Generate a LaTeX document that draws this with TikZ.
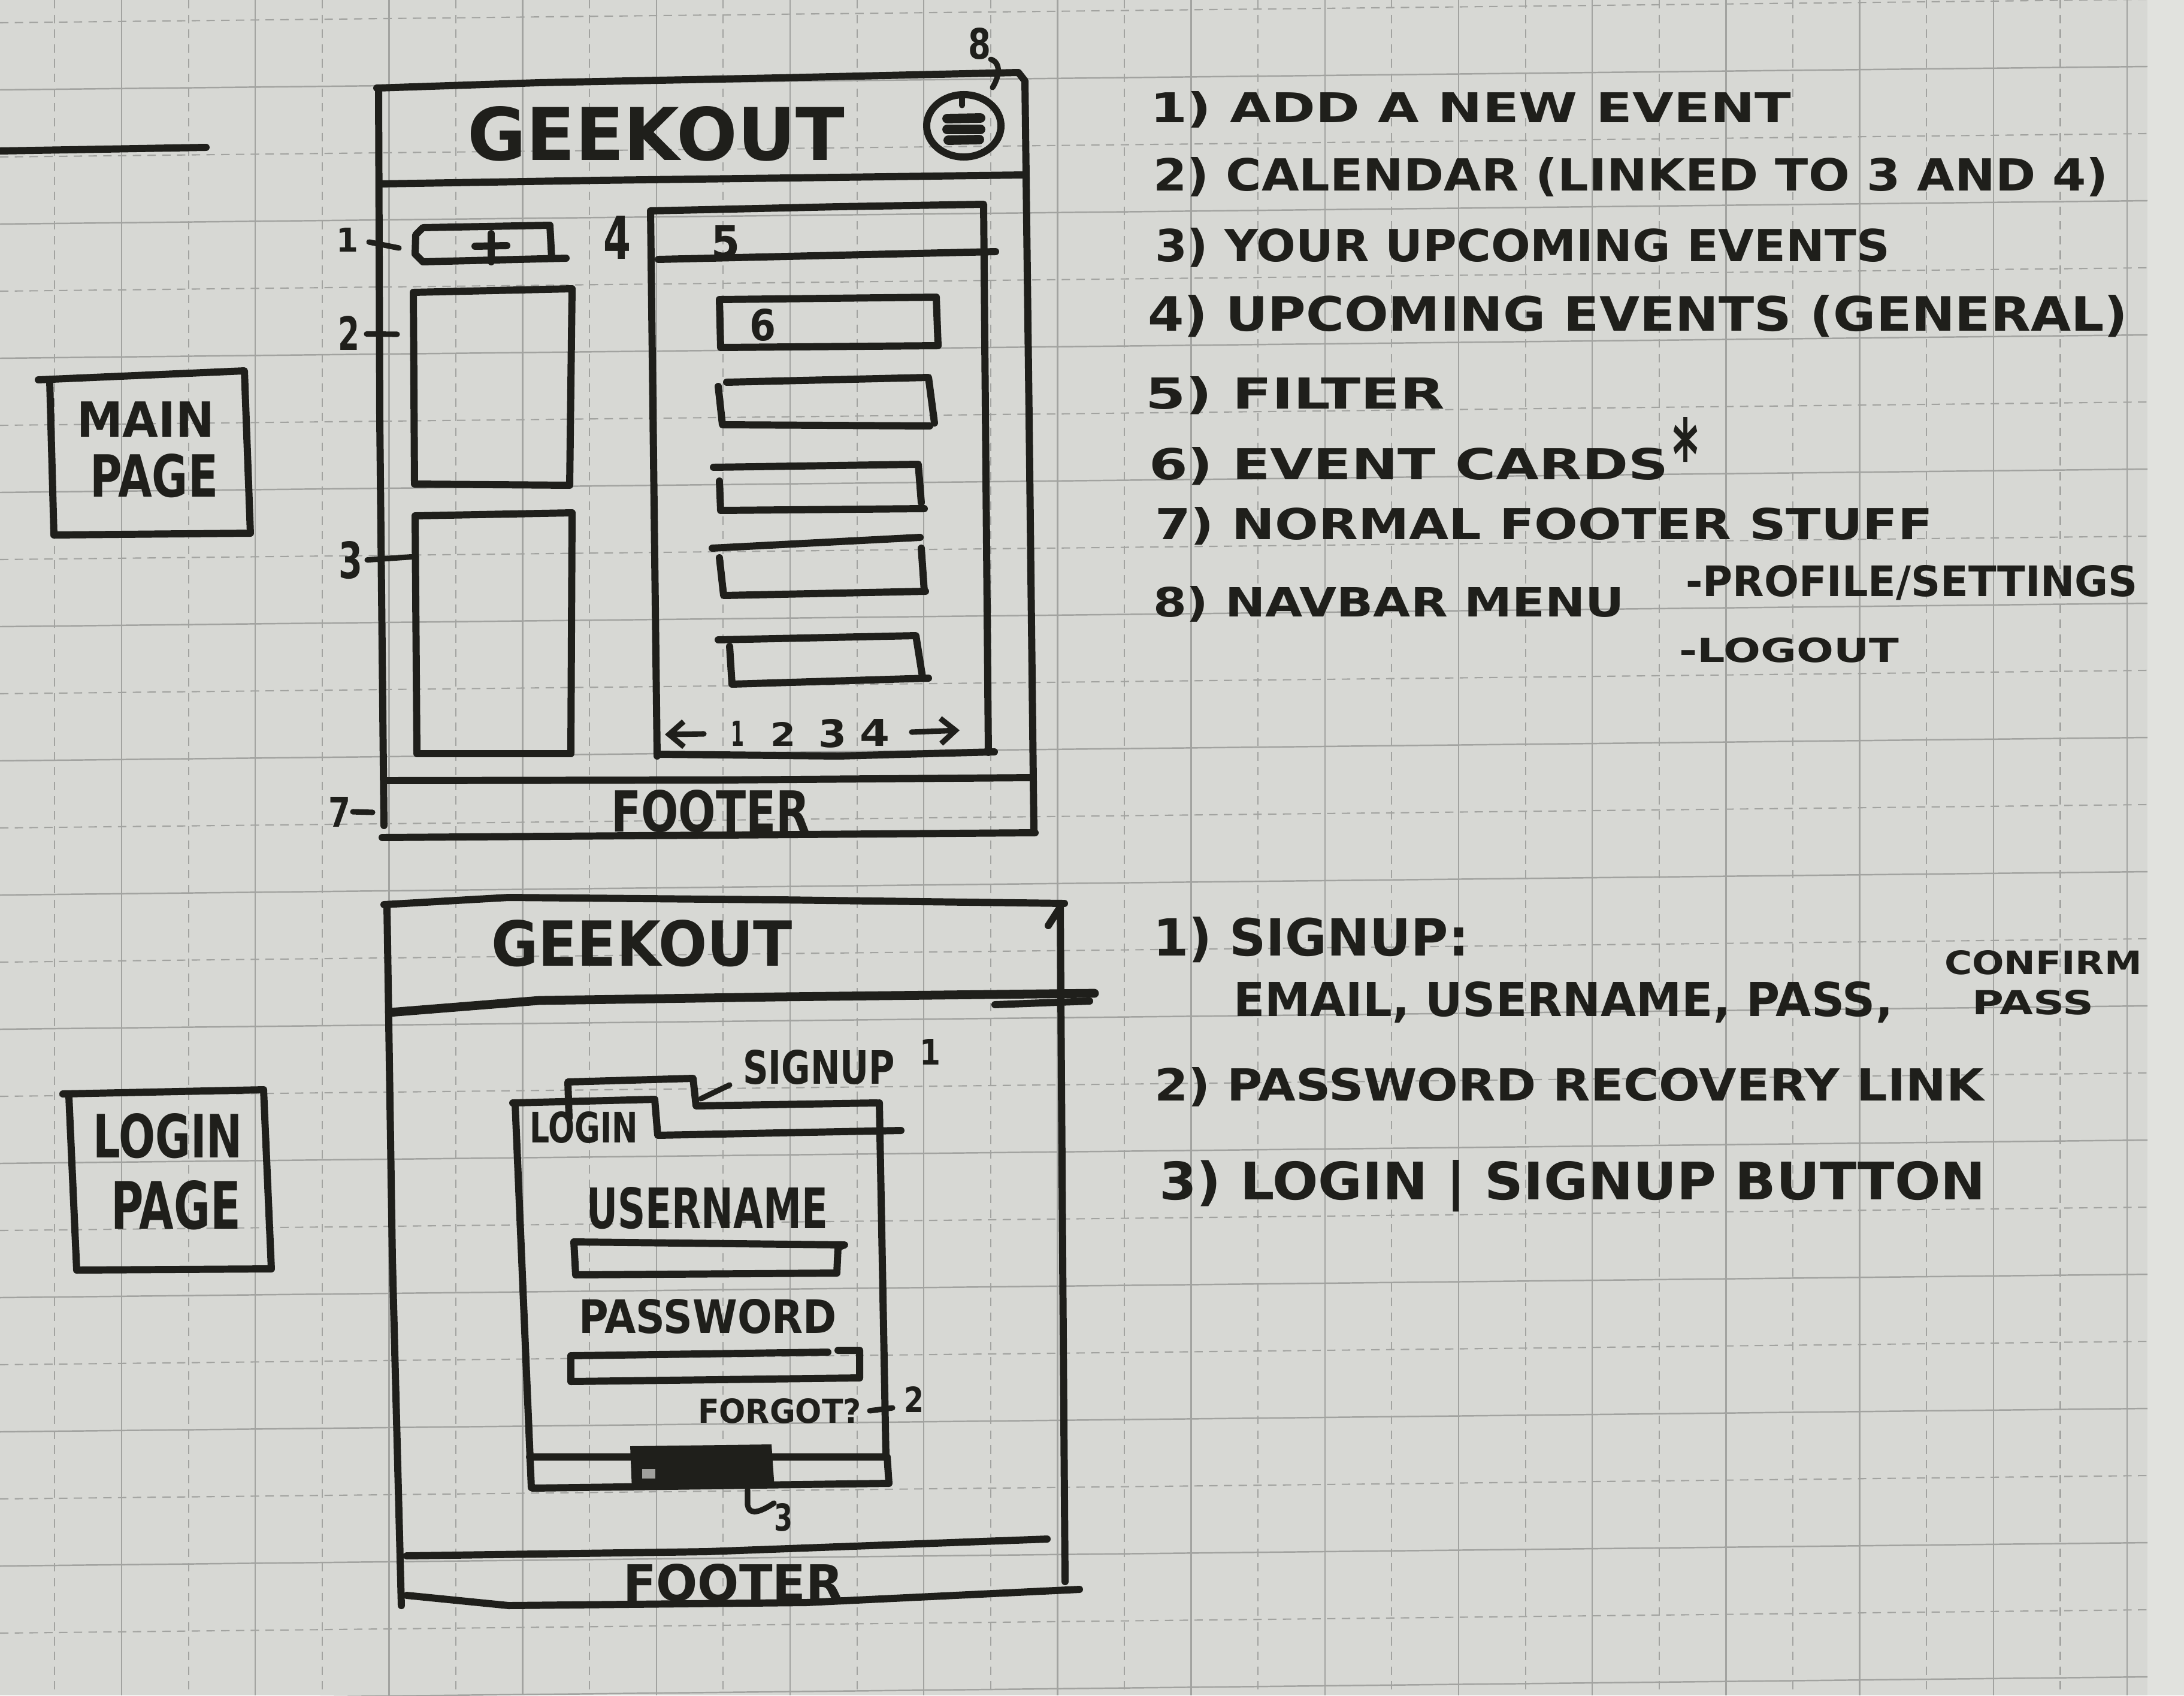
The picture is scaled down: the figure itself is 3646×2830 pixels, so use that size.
\documentclass[tikz,border=0pt]{standalone}
\usepackage{fontspec}
\usepackage{graphicx}
\usetikzlibrary{arrows.meta}
\newfontfamily\inkfont{DejaVu Sans}
\definecolor{paper}{HTML}{D7D8D4}
\definecolor{paperedge}{HTML}{E1E2DE}
\definecolor{gridline}{HTML}{A2A3A0}
\definecolor{ink}{HTML}{1F1F1B}

% hand lettering: width x1..x2, letter top y1, baseline y2
\newcommand{\hwat}[6]{%
  \pgfmathsetmacro\hwW{(#4-#2)*0.01}%
  \pgfmathsetmacro\hwH{(#5-#3)*0.01}%
  \node[inktext] (#1) at (#2,#5) {\resizebox{\hwW cm}{\hwH cm}{\inkfont\bfseries #6}};%
}

\begin{document}
\begin{tikzpicture}[x=0.01cm, y=-0.01cm,
  inktext/.style={inner sep=0pt, outer sep=0pt, anchor=base west, text=ink},
  pen/.style={draw=ink, line width=3.4pt, line cap=round, line join=round},
  finepen/.style={draw=ink, line width=2.6pt, line cap=round, line join=round},
  solidgrid/.style={draw=gridline, line width=0.7pt},
  dashgrid/.style={draw=gridline, line width=0.6pt, dash pattern=on 4pt off 3pt},
  barb/.style={-{Straight Barb[length=7pt,width=12pt]}}
]

% ---------- paper and grid ----------
\fill[paper] (0,0) rectangle (3646,2830);
\fill[paperedge] (3585,0) rectangle (3646,2830);
\useasboundingbox (0,0) rectangle (3646,2830);

\foreach \k in {0,2,...,30} \draw[solidgrid] ({203+111.6*\k},0) -- ++(0,2830);
\foreach \k in {-1,1,...,29} \draw[dashgrid] ({203+111.6*\k},0) -- ++(0,2830);
\foreach \k in {0,2,...,24} \draw[solidgrid] (0,{150+112*\k}) -- (3585,{150+112*\k-39});
\foreach \k in {-1,1,...,23} \draw[dashgrid] (0,{150+112*\k}) -- (3585,{150+112*\k-39});

% ---------- stray rule, top left ----------
\draw[pen] (0,252) -- (344,246);

% ---------- page name boxes ----------
\draw[pen] (64,634) -- (408,619) -- (418,890) -- (90,893) -- (83,636);
\hwat{mainw}{128}{670}{358}{729}{MAIN}
\hwat{pagew}{150}{757}{364}{829}{PAGE}

\draw[pen] (105,1826) -- (440,1819) -- (453,2118) -- (128,2120) -- (115,1830);
\hwat{loginw}{155}{1858}{405}{1932}{LOGIN}
\hwat{pagewb}{185}{1970}{402}{2051}{PAGE}

% ---------- main page wireframe ----------
\draw[pen] (632,148) -- (634,700) -- (641,1378);
\draw[pen] (629,147) -- (900,138) -- (1300,130) -- (1700,121) -- (1711,135) -- (1718,700) -- (1726,1390);
\draw[pen] (633,307) -- (1000,301) -- (1400,296) -- (1710,292);
\hwat{maintitle}{780}{177}{1410}{267}{GEEKOUT}

% navbar menu button
\draw[pen] (1609,210) ellipse [x radius=0.62cm, y radius=0.52cm];
\draw[pen, line width=4.5pt] (1581,198) -- (1637,197);
\draw[pen, line width=4.5pt] (1581,216) -- (1637,216);
\draw[pen, line width=4.5pt] (1583,234) -- (1635,233);
\draw[finepen] (1606,160) -- (1606,176);
\hwat{lbleight}{1616}{46}{1654}{98}{8}
\coordinate (eightend) at (1657,146);
\draw[finepen] (lbleight.south east) .. controls (1672,105) and (1668,128) .. (eightend);

% add-event button
\draw[pen] (945,431) -- (706,437) -- (693,424) -- (694,392) -- (706,380) -- (918,376) -- (921,431);
\draw[pen] (820,390) -- (820,437);
\draw[pen] (793,411) -- (846,410);
\hwat{lblone}{561}{380}{598}{420}{1}
\coordinate (tickone) at (666,414);
\draw[finepen] (lblone.east) ++(18,4) -- (tickone);

% calendar and own events
\draw[pen] (690,488) -- (955,482) -- (951,810) -- (692,808) -- cycle;
\hwat{lbltwo}{564}{527}{600}{584}{2}
\coordinate (ticktwo) at (663,558);
\draw[finepen] (lbltwo.east) ++(12,2) -- (ticktwo);
\draw[pen] (693,861) -- (955,856) -- (953,1258) -- (696,1258) -- cycle;
\hwat{lblthree}{565}{903}{605}{965}{3}
\coordinate (tickthree) at (695,929);
\draw[finepen] (lblthree.east) ++(8,0) -- (tickthree);

% general upcoming events panel
\draw[pen] (1097,1262) -- (1086,352) -- (1400,345) -- (1642,341) -- (1650,1256);
\draw[pen] (1097,1259) -- (1400,1262) -- (1660,1255);
\draw[pen] (1099,433) -- (1400,426) -- (1662,420);
\hwat{lblfour}{1007}{360}{1053}{432}{4}
\hwat{lblfive}{1187}{376}{1235}{430}{5}

% event cards
\draw[pen] (1201,500) -- (1563,496) -- (1566,577) -- (1203,580) -- cycle;
\hwat{lblsix}{1251}{515}{1295}{568}{6}
\draw[pen] (1213,638) -- (1550,630) -- (1560,706);
\draw[pen] (1199,645) -- (1206,709) -- (1552,711);
\draw[pen] (1191,780) -- (1533,775) -- (1538,839);
\draw[pen] (1201,803) -- (1203,852) -- (1543,849);
\draw[pen] (1189,915) -- (1536,897);
\draw[pen] (1538,915) -- (1543,987);
\draw[pen] (1201,931) -- (1208,994) -- (1545,987);
\draw[pen] (1199,1068) -- (1529,1061) -- (1540,1130);
\draw[pen] (1218,1079) -- (1222,1142) -- (1550,1132);

% pagination
\hwat{pgone}{1220}{1203}{1242}{1245}{1}
\hwat{pgtwo}{1286}{1205}{1328}{1245}{2}
\hwat{pgthree}{1366}{1200}{1413}{1247}{3}
\hwat{pgfour}{1435}{1200}{1485}{1245}{4}
\coordinate (pgls) at (1175,1225);
\coordinate (pgle) at (1110,1226);
\coordinate (pgrs) at (1522,1222);
\coordinate (pgre) at (1602,1219);
\draw[finepen, barb] (pgls) -- (pgle);
\draw[finepen, barb] (pgrs) -- (pgre);

% footer
\draw[pen] (641,1303) -- (1200,1302) -- (1724,1298);
\draw[pen] (638,1398) -- (1200,1394) -- (1728,1390);
\hwat{mainfooter}{1020}{1318}{1352}{1388}{FOOTER}
\hwat{lblseven}{548}{1330}{585}{1380}{7}
\coordinate (tickseven) at (622,1356);
\draw[finepen] (lblseven.east) ++(4,0) -- (tickseven);

% ---------- main page notes ----------
\hwat{noteone}{1920}{152}{2990}{204}{1) ADD A NEW EVENT}
\hwat{notetwo}{1925}{262}{3520}{318}{2) CALENDAR (LINKED TO 3 AND 4)}
\hwat{notethree}{1928}{380}{3155}{436}{3) YOUR UPCOMING EVENTS}
\hwat{notefour}{1916}{492}{3552}{552}{4) UPCOMING EVENTS (GENERAL)}
\hwat{notefive}{1912}{628}{2412}{682}{5) FILTER}
\hwat{notesix}{1918}{746}{2785}{800}{6) EVENT CARDS}
\hwat{notestar}{2792}{696}{2835}{816}{*}
\hwat{noteseven}{1928}{846}{3227}{900}{7) NORMAL FOOTER STUFF}
\hwat{noteeight}{1925}{978}{2712}{1029}{8) NAVBAR MENU}
\hwat{noteeighta}{2814}{943}{3569}{995}{-PROFILE/SETTINGS}
\hwat{noteeightb}{2803}{1064}{3170}{1105}{-LOGOUT}

% ---------- login page wireframe ----------
\draw[pen] (646,1512) -- (655,2100) -- (670,2680);
\draw[pen] (641,1510) -- (849,1498) -- (1300,1502) -- (1777,1508);
\draw[pen] (1750,1545) -- (1770,1514) -- (1774,2100) -- (1778,2640);
\draw[pen, line width=4.2pt] (650,1690) -- (900,1670) -- (1300,1664) -- (1827,1658);
\draw[pen] (1661,1677) -- (1819,1671);
\hwat{logintitle}{820}{1535}{1323}{1612}{GEEKOUT}

% login card with tabs
\draw[pen] (856,1841) -- (1093,1835) -- (1098,1895) -- (1504,1887);
\draw[pen] (950,1866) -- (948,1806) -- (1157,1800) -- (1162,1846) -- (1463,1841) -- (1468,1842);
\draw[pen] (860,1843) -- (887,2483);
\draw[pen] (1468,1841) -- (1479,2432) -- (884,2432);
\draw[pen] (889,2484) -- (1484,2476) -- (1481,2432);
\hwat{tablogin}{884}{1855}{1065}{1907}{LOGIN}
\hwat{tabsignup}{1240}{1752}{1494}{1809}{SIGNUP}
\hwat{lblsone}{1535}{1734}{1570}{1777}{1}
\coordinate (signuptab) at (1170,1834);
\draw[finepen] (tabsignup.west) ++(-22,30) -- (signuptab);

\hwat{userlbl}{979}{1981}{1382}{2050}{USERNAME}
\draw[pen] (958,2073) -- (1410,2078) -- (1399,2082) -- (1397,2125) -- (961,2128) -- cycle;
\hwat{passlbl}{966}{2168}{1397}{2225}{PASSWORD}
\draw[pen] (1382,2257) -- (953,2263) -- (953,2306) -- (1435,2300) -- (1435,2254) -- (1399,2254);
\hwat{forgot}{1165}{2334}{1438}{2375}{FORGOT?}
\coordinate (tickforgot) at (1490,2350);
\draw[finepen] (forgot.east) ++(14,0) -- (tickforgot);
\hwat{lblstwo}{1509}{2314}{1542}{2357}{2}

% login / signup button
\fill[ink] (1052,2414) -- (1288,2411) -- (1293,2484) -- (1055,2487) -- cycle;
\fill[paper!70!ink] (1072,2452) rectangle (1094,2468);
\coordinate (buttonfoot) at (1248,2487);
\hwat{lblsthree}{1292}{2509}{1323}{2555}{3}
\draw[finepen] (buttonfoot) -- (1248,2512) .. controls (1250,2526) and (1262,2529) .. (lblsthree.north west);

% login footer
\draw[pen] (679,2597) -- (1180,2590) -- (1748,2569);
\draw[pen] (679,2663) -- (849,2680) -- (1346,2675) -- (1802,2653);
\hwat{loginfooter}{1040}{2610}{1408}{2672}{FOOTER}

% ---------- login page notes ----------
\hwat{signone}{1925}{1530}{2452}{1595}{1) SIGNUP:}
\hwat{signfields}{2059}{1638}{3160}{1696}{EMAIL, USERNAME, PASS,}
\hwat{signconfirm}{3246}{1586}{3576}{1626}{CONFIRM}
\hwat{signpass}{3292}{1652}{3495}{1693}{PASS}
\hwat{signtwo}{1927}{1781}{3312}{1837}{2) PASSWORD RECOVERY LINK}
\hwat{signthree}{1935}{1936}{3315}{2002}{3) LOGIN | SIGNUP BUTTON}

\end{tikzpicture}
\end{document}
